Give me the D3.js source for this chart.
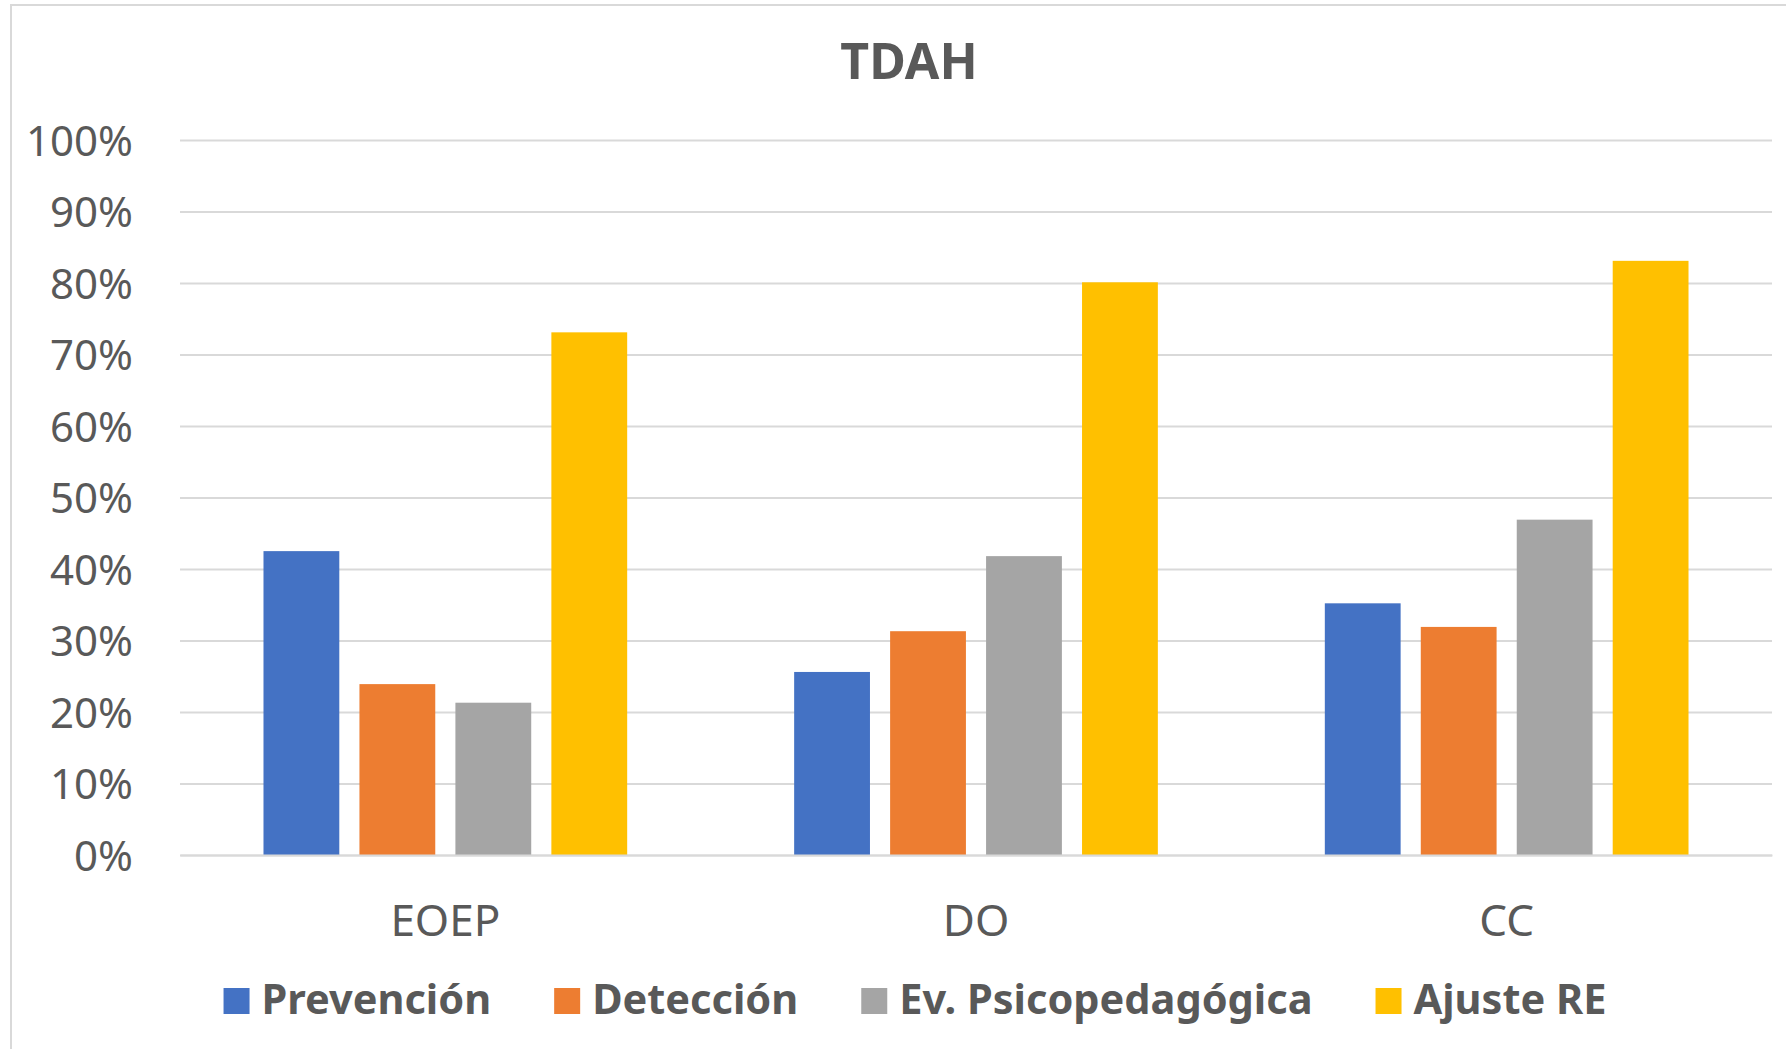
<!DOCTYPE html>
<html>
<head>
<meta charset="utf-8">
<script src="https://cdn.jsdelivr.net/npm/d3@7"></script>
<style>
  body { margin: 0; background: #fff; }
  svg text { font-family: "Comic Sans MS", "Noto Sans", sans-serif; fill: #595959; }
</style>
</head>
<body>
<div id="viz"></div>
<script>
// data
var categories = ["EOEP", "DO", "CC"];
var series = ["Prevención", "Detección", "Ev. Psicopedagógica", "Ajuste RE"];
var prevencion = [0.425, 0.256, 0.352];
var deteccion = [0.239, 0.313, 0.319];
var evPsico = [0.213, 0.418, 0.469];
var ajusteRE = [0.731, 0.801, 0.831];
var yTicks = [0, 0.1, 0.2, 0.3, 0.4, 0.5, 0.6, 0.7, 0.8, 0.9, 1];
var colors = ["#4472C4", "#ED7D31", "#A5A5A5", "#FFC000"];

var width = 1786,
    height = 1049;

var plot = { left: 180, right: 1772, top: 140, bottom: 855 };
var frameCenter = 909;

var values = [prevencion, deteccion, evPsico, ajusteRE];

// rows per category
var rows = categories.map(function(c, i) {
  return {
    category: c,
    bars: series.map(function(s, j) { return { key: s, value: values[j][i], color: colors[j] }; })
  };
});

var svg = d3.select("#viz")
  .append("svg")
  .attr("width", width)
  .attr("height", height);

// chart frame
svg.append("rect")
  .attr("x", 11)
  .attr("y", 5)
  .attr("width", 1820)
  .attr("height", 1100)
  .attr("fill", "#fff")
  .attr("stroke", "#d9d9d9")
  .attr("stroke-width", 2);

// scales
var x0 = d3.scaleBand()
  .domain(categories)
  .range([plot.left, plot.right])
  .paddingInner(0)
  .paddingOuter(0);

var x1 = d3.scaleBand()
  .domain(series)
  .range([0, x0.bandwidth()])
  .paddingInner(0.21)
  .paddingOuter(0.87);

var y = d3.scaleLinear()
  .domain([0, 1])
  .range([plot.bottom, plot.top]);

// y axis with gridlines
var yAxis = svg.append("g")
  .attr("transform", "translate(" + plot.left + ",0)")
  .call(d3.axisLeft(y)
    .tickValues(yTicks)
    .tickFormat(d3.format(".0%"))
    .tickSize(-(plot.right - plot.left))
    .tickPadding(47));

yAxis.select(".domain").remove();
yAxis.selectAll(".tick line")
  .attr("stroke", "#d9d9d9")
  .attr("stroke-width", 2);
yAxis.selectAll(".tick text")
  .attr("font-size", 42)
  .attr("dy", "0.36em")
  .style("fill", "#595959");

// bars
var groups = svg.selectAll(".group")
  .data(rows)
  .enter()
  .append("g")
  .attr("class", "group")
  .attr("transform", function(d) { return "translate(" + x0(d.category) + ",0)"; });

groups.selectAll("rect")
  .data(function(d) { return d.bars; })
  .enter()
  .append("rect")
  .attr("x", function(d) { return x1(d.key); })
  .attr("y", function(d) { return y(d.value); })
  .attr("width", x1.bandwidth())
  .attr("height", function(d) { return y(0) - y(d.value); })
  .attr("fill", function(d) { return d.color; });

// category axis
var xAxis = svg.append("g")
  .attr("transform", "translate(0," + plot.bottom + ")")
  .call(d3.axisBottom(x0).tickSize(0).tickPadding(50));

xAxis.select(".domain")
  .attr("stroke", "#d9d9d9")
  .attr("stroke-width", 2);
xAxis.selectAll(".tick text")
  .attr("font-size", 44)
  .style("fill", "#595959");

// title
svg.append("text")
  .attr("x", frameCenter)
  .attr("y", 79)
  .attr("text-anchor", "middle")
  .attr("font-size", 50)
  .attr("font-weight", "bold")
  .text("TDAH");

// legend
var legend = svg.append("g").attr("class", "legend");
var sq = 26, sqGap = 12, itemGap = 63;

var items = legend.selectAll(".item")
  .data(series)
  .enter()
  .append("g")
  .attr("class", "item");

items.append("rect")
  .attr("width", sq)
  .attr("height", sq)
  .attr("y", 988)
  .attr("fill", function(d, i) { return colors[i]; });

items.append("text")
  .attr("x", sq + sqGap)
  .attr("y", 1014)
  .attr("font-size", 41.5)
  .attr("font-weight", "bold")
  .text(function(d) { return d; });

var offsets = [], total = 0;
items.each(function(d, i) {
  var w = sq + sqGap + d3.select(this).select("text").node().getComputedTextLength();
  offsets.push(total);
  total += w + (i < series.length - 1 ? itemGap : 0);
});

var startX = frameCenter + 6 - total / 2;
items.attr("transform", function(d, i) { return "translate(" + (startX + offsets[i]) + ",0)"; });
</script>
</body>
</html>
